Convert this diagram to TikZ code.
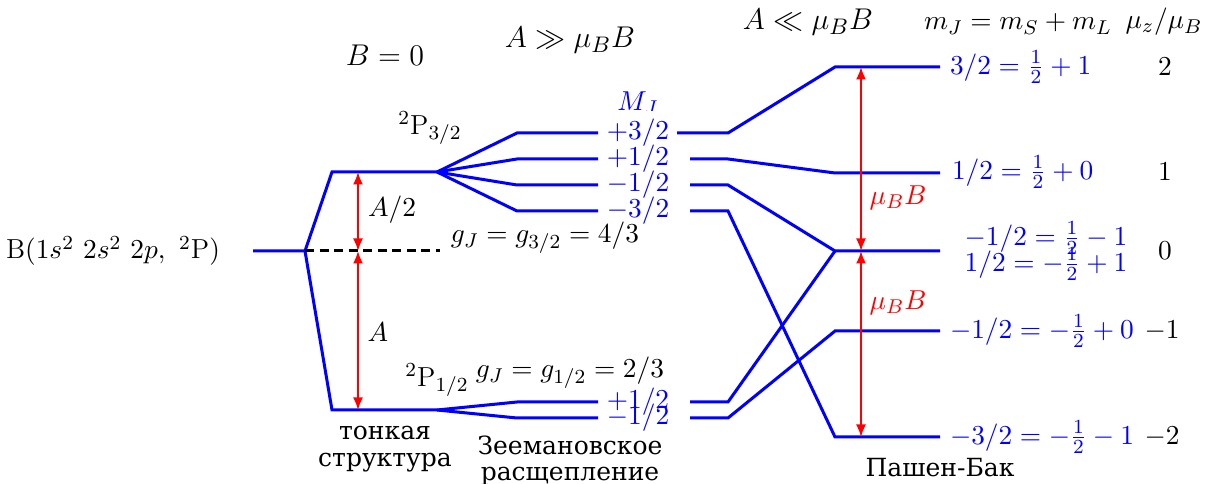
\documentclass[tikz,border=0pt]{standalone}
\usepackage{fontspec}
\newfontfamily\cyr{DejaVu Serif}
\usetikzlibrary{arrows.meta}
\begin{document}
\begin{tikzpicture}[x=0.4pt,y=-0.4pt,
  lev/.style={blue, line width=1.2pt},
  gap/.style={red, line width=0.8pt, {Latex[length=5pt,width=4pt]}-{Latex[length=5pt,width=4pt]}},
  lbl/.style={font=\fontsize{11}{13}\selectfont, inner sep=1pt},
  blbl/.style={lbl, text=blue},
  rlbl/.style={lbl, text=red},
  head/.style={font=\fontsize{12.7}{15}\selectfont, inner sep=1pt},
  cyrl/.style={font=\cyr\fontsize{10}{10.5}\selectfont, align=center, inner sep=1pt}]
\useasboundingbox (0,0) rectangle (1217,484);

% headers
\node[head] (h0) at (385,55) {$B=0$};
\node[head] (h1) at (570,40) {$A\gg\mu_B B$};
\node[head] (h2) at (808,22) {$A\ll\mu_B B$};
\node[lbl, font=\fontsize{11.3}{12}\selectfont] (h3) at (1018,24) {$m_J=m_S+m_L$};
\node[lbl, font=\fontsize{10.8}{12}\selectfont] (h4) at (1164,22) {$\mu_z/\mu_B$};

% ground state
\node[lbl] (gs) at (113,251) {B$(1s^2\ 2s^2\ 2p,\ {}^2\mathrm{P})$};
\coordinate (g0) at (253,251);
\coordinate (g1) at (305,251);
\coordinate (u0) at (332,172); \coordinate (u1) at (437,172);
\coordinate (l0) at (332,410); \coordinate (l1) at (437,410);
\coordinate (d1) at (440,251);
\draw[lev] (g0) -- (g1) -- (u0) -- (u1);
\draw[lev] (g1) -- (l0) -- (l1);
\draw[line width=1.2pt, dash pattern=on 3.6pt off 2.2pt] (g1) -- (d1);

% fine structure gaps
\coordinate (a1) at (358,172); \coordinate (a2) at (358,251); \coordinate (a3) at (358,410);
\draw[gap] (a1) -- (a2);
\draw[gap] (a2) -- (a3);
\node[lbl] (tA2) at (392,210) {$A/2$};
\node[lbl] (tA) at (378,332) {$A$};

\node[lbl] (p32) at (430,128) {${}^2\mathrm{P}_{3/2}$};
\node[lbl] (p12) at (437,380) {${}^2\mathrm{P}_{1/2}$};
\node[lbl] (g32) at (545,238) {$g_J=g_{3/2}=4/3$};
\node[lbl] (g12) at (570,373) {$g_J=g_{1/2}=2/3$};

% Zeeman
\node[blbl] (MJ) at (638,103) {$M_J$};
\node[blbl, fill=white, inner ysep=3.5pt] (m1) at (638,133) {$+3/2$};
\node[blbl] (m2) at (638,159) {$+1/2$};
\node[blbl] (m3) at (638,185) {$-1/2$};
\node[blbl] (m4) at (638,211) {$-3/2$};
\node[blbl] (m5) at (638,402) {$+1/2$};
\node[blbl] (m6) at (638,418) {$-1/2$};

\coordinate (za1) at (517,133); \coordinate (zb1) at (598,133);
\coordinate (za2) at (517,159); \coordinate (zb2) at (598,159);
\coordinate (za3) at (517,185); \coordinate (zb3) at (598,185);
\coordinate (za4) at (517,211); \coordinate (zb4) at (598,211);
\coordinate (za5) at (517,402); \coordinate (zb5) at (598,402);
\coordinate (za6) at (517,418); \coordinate (zb6) at (598,418);
\foreach \i in {1,2,3,4} \draw[lev] (u1) -- (za\i) -- (zb\i);
\foreach \i in {5,6} \draw[lev] (l1) -- (za\i) -- (zb\i);

% right stubs
\coordinate (rs1) at (677,133); \coordinate (re1) at (728,133);
\coordinate (rs2) at (690,159); \coordinate (re2) at (728,159);
\coordinate (rs3) at (690,185); \coordinate (re3) at (728,185);
\coordinate (rs4) at (690,211); \coordinate (re4) at (728,211);
\coordinate (rs5) at (690,402); \coordinate (re5) at (728,402);
\coordinate (rs6) at (690,418); \coordinate (re6) at (728,418);

% Paschen-Back levels
\coordinate (P1a) at (835,67);  \coordinate (P1b) at (940,67);
\coordinate (P2a) at (835,173); \coordinate (P2b) at (940,173);
\coordinate (P3a) at (835,251); \coordinate (P3b) at (940,251);
\coordinate (P4a) at (835,331); \coordinate (P4b) at (940,331);
\coordinate (P5a) at (835,437); \coordinate (P5b) at (940,437);

\draw[lev] (rs1) -- (re1) -- (P1a) -- (P1b);
\draw[lev] (rs2) -- (re2) -- (P2a) -- (P2b);
\draw[lev] (rs3) -- (re3) -- (P3a) -- (P3b);
\draw[lev] (rs4) -- (re4) -- (P5a) -- (P5b);
\draw[lev] (rs5) -- (re5) -- (P3a);
\draw[lev] (rs6) -- (re6) -- (P4a) -- (P4b);

\coordinate (b1) at (861,67); \coordinate (b2) at (861,251); \coordinate (b3) at (861,437);
\draw[gap] (b1) -- (b2);
\draw[gap] (b2) -- (b3);
\node[rlbl] (muB1) at (898,198) {$\mu_B B$};
\node[rlbl] (muB2) at (898,303) {$\mu_B B$};

% m_J labels
\node[blbl, anchor=west] (n1) at (947,67) {$3/2=\frac12+1$};
\node[blbl, anchor=west] (n2) at (949,172) {$1/2=\frac12+0$};
\node[blbl] (n3) at (1046,238) {$-1/2=\frac12-1$};
\node[blbl] (n4) at (1046,264) {$1/2=-\frac12+1$};
\node[blbl, anchor=west] (n5) at (947,331) {$-1/2=-\frac12+0$};
\node[blbl, anchor=west] (n6) at (947,437) {$-3/2=-\frac12-1$};

% mu_z values
\node[lbl] (v1) at (1165,67) {$2$};
\node[lbl] (v2) at (1165,172) {$1$};
\node[lbl] (v3) at (1165,251) {$0$};
\node[lbl] (v4) at (1162,331) {$-1$};
\node[lbl] (v5) at (1162,437) {$-2$};

% captions
\node[cyrl] (c1) at (385,449) {тонкая\\структура};
\node[cyrl] (c2) at (570,461) {Зеемановское\\расщепление};
\node[cyrl] (c3) at (940,468) {Пашен-Бак};
\end{tikzpicture}
\end{document}
